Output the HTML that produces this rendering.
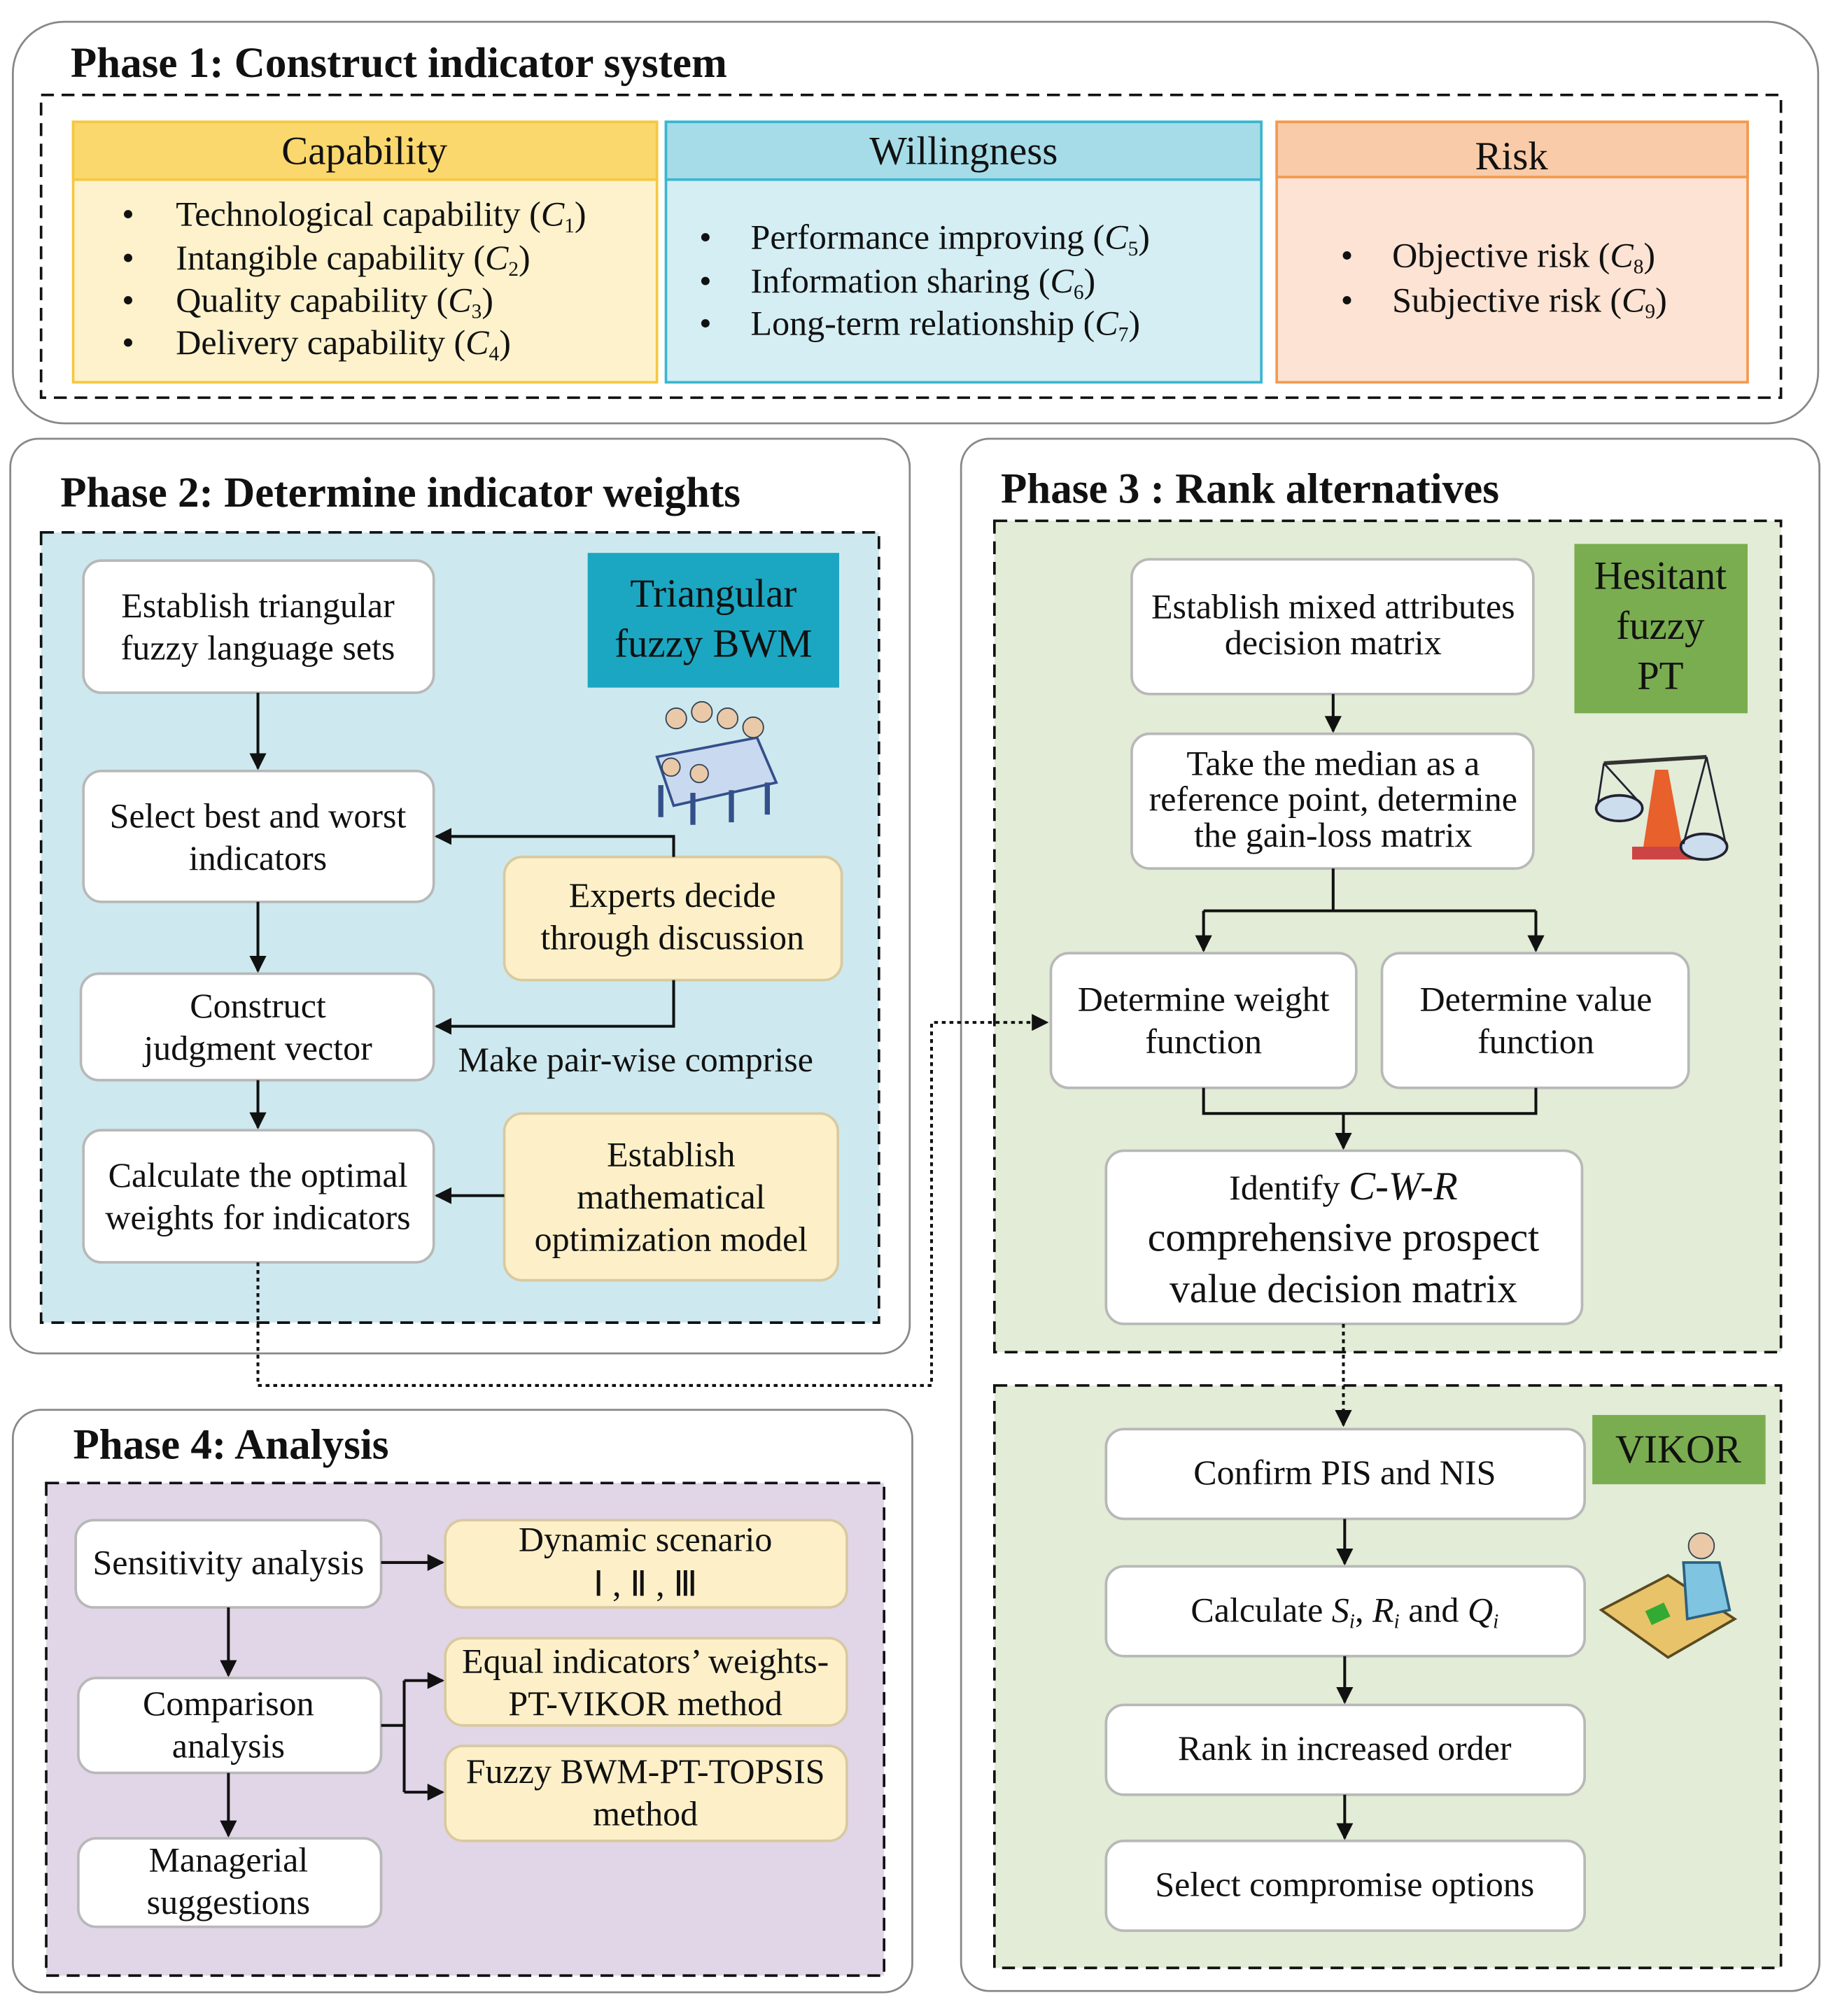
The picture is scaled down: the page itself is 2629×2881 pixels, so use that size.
<!DOCTYPE html>
<html><head><meta charset="utf-8"><style>
html,body{margin:0;padding:0;background:#fff}
svg{display:block}
text{font-family:"Liberation Serif",serif;fill:#111}
.t{font-size:27.3px}
.h{font-size:33.3px;font-weight:bold}
.wb{fill:#fff;stroke:#b8b8b8;stroke-width:2}
.yb{fill:#fdf0c8;stroke:#d8c9a0;stroke-width:2}
.ln{stroke:#111;stroke-width:2.2;fill:none}
</style></head><body>
<svg width="2629" height="2881" viewBox="0 0 1434 1571.5" xmlns="http://www.w3.org/2000/svg">
<defs><marker id="a" viewBox="0 0 10 10" refX="9" refY="5" markerWidth="6" markerHeight="6" orient="auto"><path d="M0,0L10,5L0,10z" fill="#111"/></marker></defs>

<!-- Phase 1 -->
<rect x="10" y="17" width="1407" height="313" rx="40" fill="#fff" stroke="#888" stroke-width="1.5"/>
<text x="55" y="60" class="h">Phase 1: Construct indicator system</text>
<rect x="32" y="74" width="1356" height="236" fill="none" stroke="#111" stroke-width="2" stroke-dasharray="10,6"/>
<rect x="57" y="95" width="455" height="203" fill="#fdf2cc" stroke="#f5c842" stroke-width="2"/>
<rect x="57" y="95" width="455" height="45" fill="#fbd86e" stroke="#f5c842" stroke-width="2"/>
<text x="284" y="128" class="t" text-anchor="middle" style="font-size:31px">Capability</text>
<g class="t"><text x="95" y="176">•</text><text x="137" y="176">Technological capability (<tspan font-style="italic">C</tspan><tspan font-size="16" dy="5">1</tspan><tspan dy="-5">)</tspan></text>
<text x="95" y="210">•</text><text x="137" y="210">Intangible capability (<tspan font-style="italic">C</tspan><tspan font-size="16" dy="5">2</tspan><tspan dy="-5">)</tspan></text>
<text x="95" y="243">•</text><text x="137" y="243">Quality capability (<tspan font-style="italic">C</tspan><tspan font-size="16" dy="5">3</tspan><tspan dy="-5">)</tspan></text>
<text x="95" y="276">•</text><text x="137" y="276">Delivery capability (<tspan font-style="italic">C</tspan><tspan font-size="16" dy="5">4</tspan><tspan dy="-5">)</tspan></text></g>
<rect x="519" y="95" width="464" height="203" fill="#d4eef3" stroke="#3bb6d0" stroke-width="2"/>
<rect x="519" y="95" width="464" height="45" fill="#a6dce8" stroke="#3bb6d0" stroke-width="2"/>
<text x="751" y="128" class="t" text-anchor="middle" style="font-size:31px">Willingness</text>
<g class="t"><text x="545" y="194">•</text><text x="585" y="194">Performance improving  (<tspan font-style="italic">C</tspan><tspan font-size="16" dy="5">5</tspan><tspan dy="-5">)</tspan></text>
<text x="545" y="228">•</text><text x="585" y="228">Information sharing (<tspan font-style="italic">C</tspan><tspan font-size="16" dy="5">6</tspan><tspan dy="-5">)</tspan></text>
<text x="545" y="261">•</text><text x="585" y="261">Long-term relationship  (<tspan font-style="italic">C</tspan><tspan font-size="16" dy="5">7</tspan><tspan dy="-5">)</tspan></text></g>
<rect x="995" y="95" width="367" height="203" fill="#fde3d3" stroke="#f29a50" stroke-width="2"/>
<rect x="995" y="95" width="367" height="43" fill="#f9cba8" stroke="#f29a50" stroke-width="2"/>
<text x="1178" y="132" class="t" text-anchor="middle" style="font-size:31px">Risk</text>
<g class="t"><text x="1045" y="208">•</text><text x="1085" y="208">Objective risk (<tspan font-style="italic">C</tspan><tspan font-size="16" dy="5">8</tspan><tspan dy="-5">)</tspan></text>
<text x="1045" y="243">•</text><text x="1085" y="243">Subjective risk (<tspan font-style="italic">C</tspan><tspan font-size="16" dy="5">9</tspan><tspan dy="-5">)</tspan></text></g>

<!-- Phase 2 -->
<rect x="8" y="342" width="701" height="713" rx="22" fill="#fff" stroke="#888" stroke-width="1.5"/>
<text x="47" y="395" class="h">Phase 2: Determine indicator weights</text>
<rect x="32" y="415" width="653" height="616" fill="#cde9ef" stroke="#111" stroke-width="2" stroke-dasharray="10,6"/>
<rect x="65" y="437" width="273" height="103" rx="14" class="wb"/>
<text x="201" y="481" class="t" text-anchor="middle">Establish triangular</text><text x="201" y="514" class="t" text-anchor="middle">fuzzy language sets</text>
<rect x="65" y="601" width="273" height="102" rx="14" class="wb"/>
<text x="201" y="645" class="t" text-anchor="middle">Select best and worst</text><text x="201" y="678" class="t" text-anchor="middle">indicators</text>
<rect x="63" y="759" width="275" height="83" rx="14" class="wb"/>
<text x="201" y="793" class="t" text-anchor="middle">Construct</text><text x="201" y="826" class="t" text-anchor="middle">judgment vector</text>
<rect x="65" y="881" width="273" height="103" rx="14" class="wb"/>
<text x="201" y="925" class="t" text-anchor="middle">Calculate the optimal</text><text x="201" y="958" class="t" text-anchor="middle">weights for indicators</text>
<rect x="458" y="431" width="196" height="105" fill="#1ba7c2"/>
<text x="556" y="473" class="t" text-anchor="middle" style="font-size:31px">Triangular</text><text x="556" y="512" class="t" text-anchor="middle" style="font-size:31px">fuzzy BWM</text>
<rect x="393" y="668" width="263" height="96" rx="14" class="yb"/>
<text x="524" y="707" class="t" text-anchor="middle">Experts decide</text><text x="524" y="740" class="t" text-anchor="middle">through discussion</text>
<rect x="393" y="868" width="260" height="130" rx="14" class="yb"/>
<text x="523" y="909" class="t" text-anchor="middle">Establish</text><text x="523" y="942" class="t" text-anchor="middle">mathematical</text><text x="523" y="975" class="t" text-anchor="middle">optimization model</text>
<text x="357" y="835" class="t">Make pair-wise comprise</text>
<path class="ln" d="M201,540V599" marker-end="url(#a)"/>
<path class="ln" d="M201,703V757" marker-end="url(#a)"/>
<path class="ln" d="M201,842V879" marker-end="url(#a)"/>
<path class="ln" d="M525,668V652H340" marker-end="url(#a)"/>
<path class="ln" d="M525,764V800H340" marker-end="url(#a)"/>
<path class="ln" d="M393,932H340" marker-end="url(#a)"/>
<!-- people icon -->
<g>
<path d="M512,590L590,575L605,610L525,628z" fill="#c9d9f0" stroke="#34508a" stroke-width="2"/>
<circle cx="527" cy="560" r="8" fill="#e9c9a8" stroke="#345" /><circle cx="547" cy="555" r="8" fill="#e9c9a8" stroke="#345"/><circle cx="567" cy="560" r="8" fill="#e9c9a8" stroke="#345"/><circle cx="587" cy="567" r="8" fill="#e9c9a8" stroke="#345"/>
<path d="M515,612v25M540,618v25M570,616v25M598,610v25" stroke="#34508a" stroke-width="4"/>
<circle cx="523" cy="598" r="7" fill="#e9c9a8" stroke="#345"/><circle cx="545" cy="603" r="7" fill="#e9c9a8" stroke="#345"/>
</g>

<!-- Phase 3 -->
<rect x="749" y="342" width="669" height="1210" rx="22" fill="#fff" stroke="#888" stroke-width="1.5"/>
<text x="780" y="392" class="h">Phase 3 : Rank alternatives</text>
<rect x="775" y="406" width="613" height="648" fill="#e2ecd6" stroke="#111" stroke-width="2" stroke-dasharray="10,6"/>
<rect x="882" y="436" width="313" height="105" rx="14" class="wb"/>
<text x="1039" y="482" class="t" text-anchor="middle">Establish mixed attributes</text><text x="1039" y="510" class="t" text-anchor="middle">decision matrix</text>
<rect x="1227" y="424" width="135" height="132" fill="#7aad4f"/>
<text x="1294" y="459" class="t" text-anchor="middle" style="font-size:31px">Hesitant</text><text x="1294" y="498" class="t" text-anchor="middle" style="font-size:31px">fuzzy</text><text x="1294" y="537" class="t" text-anchor="middle" style="font-size:31px">PT</text>
<rect x="882" y="572" width="313" height="105" rx="14" class="wb"/>
<text x="1039" y="604" class="t" text-anchor="middle">Take the median as a</text><text x="1039" y="632" class="t" text-anchor="middle">reference point, determine</text><text x="1039" y="660" class="t" text-anchor="middle">the gain-loss matrix</text>
<rect x="819" y="743" width="238" height="105" rx="14" class="wb"/>
<text x="938" y="788" class="t" text-anchor="middle">Determine weight</text><text x="938" y="821" class="t" text-anchor="middle">function</text>
<rect x="1077" y="743" width="239" height="105" rx="14" class="wb"/>
<text x="1197" y="788" class="t" text-anchor="middle">Determine value</text><text x="1197" y="821" class="t" text-anchor="middle">function</text>
<rect x="862" y="897" width="371" height="135" rx="14" class="wb"/>
<text x="1047" y="935" class="t" text-anchor="middle">Identify  <tspan font-style="italic" font-size="31">C-W-R</tspan></text>
<text x="1047" y="975" class="t" text-anchor="middle" style="font-size:31.5px">comprehensive prospect</text><text x="1047" y="1015" class="t" text-anchor="middle" style="font-size:31.5px">value decision matrix</text>
<path class="ln" d="M1039,541V570" marker-end="url(#a)"/>
<path class="ln" d="M1039,677V710M938,710H1197"/>
<path class="ln" d="M938,710V741" marker-end="url(#a)"/>
<path class="ln" d="M1197,710V741" marker-end="url(#a)"/>
<path class="ln" d="M938,848V868H1197V848M1047,868V895" marker-end="url(#a)"/>
<!-- scale icon -->
<g>
<path d="M1280,665L1290,600L1300,600L1312,665z" fill="#e8602c"/>
<rect x="1272" y="660" width="48" height="10" fill="#c44"/>
<path d="M1250,595L1330,590" stroke="#333" stroke-width="3"/>
<ellipse cx="1262" cy="630" rx="18" ry="10" fill="#cde" stroke="#223" stroke-width="2"/>
<ellipse cx="1328" cy="660" rx="18" ry="10" fill="#cde" stroke="#223" stroke-width="2"/>
<path d="M1250,595L1245,628M1250,595L1280,628M1330,590L1312,658M1330,590L1345,658" stroke="#223" stroke-width="1.5"/>
</g>
<rect x="775" y="1080" width="613" height="454" fill="#e2ecd6" stroke="#111" stroke-width="2" stroke-dasharray="10,6"/>
<path class="ln" d="M1047,1032V1111" stroke-dasharray="3,3" marker-end="url(#a)"/>
<rect x="1241" y="1103" width="135" height="54" fill="#7aad4f"/>
<text x="1308" y="1140" class="t" text-anchor="middle" style="font-size:31px">VIKOR</text>
<rect x="862" y="1114" width="373" height="70" rx="14" class="wb"/>
<text x="1048" y="1157" class="t" text-anchor="middle">Confirm PIS and NIS</text>
<rect x="862" y="1221" width="373" height="70" rx="14" class="wb"/>
<text x="1048" y="1264" class="t" text-anchor="middle">Calculate  <tspan font-style="italic">S<tspan font-size="16" dy="5">i</tspan></tspan><tspan dy="-5">, </tspan><tspan font-style="italic">R<tspan font-size="16" dy="5">i</tspan></tspan><tspan dy="-5"> and </tspan><tspan font-style="italic">Q<tspan font-size="16" dy="5">i</tspan></tspan></text>
<rect x="862" y="1329" width="373" height="70" rx="14" class="wb"/>
<text x="1048" y="1372" class="t" text-anchor="middle">Rank in increased order</text>
<rect x="862" y="1435" width="373" height="70" rx="14" class="wb"/>
<text x="1048" y="1478" class="t" text-anchor="middle">Select compromise options</text>
<path class="ln" d="M1048,1184V1219" marker-end="url(#a)"/>
<path class="ln" d="M1048,1291V1327" marker-end="url(#a)"/>
<path class="ln" d="M1048,1399V1433" marker-end="url(#a)"/>
<!-- desk icon -->
<g>
<path d="M1248,1255L1300,1228L1352,1262L1300,1292z" fill="#e8c36a" stroke="#5a4a20" stroke-width="2"/>
<circle cx="1326" cy="1205" r="10" fill="#e9c9a8" stroke="#345"/>
<path d="M1312,1218L1340,1218L1348,1255L1315,1262z" fill="#7fc4e0" stroke="#2a6080" stroke-width="2"/>
<rect x="1284" y="1252" width="16" height="12" fill="#3a3" transform="rotate(-25 1292 1258)"/>
</g>

<!-- Phase 4 -->
<rect x="10" y="1099" width="701" height="454" rx="22" fill="#fff" stroke="#888" stroke-width="1.5"/>
<text x="57" y="1137" class="h">Phase 4: Analysis</text>
<rect x="36" y="1156" width="653" height="384" fill="#e0d6e7" stroke="#111" stroke-width="2" stroke-dasharray="10,6"/>
<rect x="59" y="1185" width="238" height="68" rx="14" class="wb"/>
<text x="178" y="1227" class="t" text-anchor="middle">Sensitivity analysis</text>
<rect x="61" y="1308" width="236" height="74" rx="14" class="wb"/>
<text x="178" y="1337" class="t" text-anchor="middle">Comparison</text><text x="178" y="1370" class="t" text-anchor="middle">analysis</text>
<rect x="61" y="1433" width="236" height="69" rx="14" class="wb"/>
<text x="178" y="1459" class="t" text-anchor="middle">Managerial</text><text x="178" y="1492" class="t" text-anchor="middle">suggestions</text>
<rect x="347" y="1185" width="313" height="68" rx="14" class="yb"/>
<text x="503" y="1209" class="t" text-anchor="middle">Dynamic scenario</text><text x="503" y="1244" class="t" text-anchor="middle">Ⅰ , Ⅱ ,  Ⅲ</text>
<rect x="347" y="1277" width="313" height="68" rx="14" class="yb"/>
<text x="503" y="1304" class="t" text-anchor="middle">Equal indicators’ weights-</text><text x="503" y="1337" class="t" text-anchor="middle">PT-VIKOR method</text>
<rect x="347" y="1361" width="313" height="74" rx="14" class="yb"/>
<text x="503" y="1390" class="t" text-anchor="middle">Fuzzy BWM-PT-TOPSIS</text><text x="503" y="1423" class="t" text-anchor="middle">method</text>
<path class="ln" d="M297,1218H345" marker-end="url(#a)"/>
<path class="ln" d="M178,1253V1306" marker-end="url(#a)"/>
<path class="ln" d="M178,1382V1431" marker-end="url(#a)"/>
<path class="ln" d="M297,1345H315M315,1310V1397"/>
<path class="ln" d="M315,1310H345" marker-end="url(#a)"/>
<path class="ln" d="M315,1397H345" marker-end="url(#a)"/>

<!-- dotted connector on top -->
<path class="ln" d="M201,984V1080H726V797H816" stroke-dasharray="3,3" marker-end="url(#a)"/>
</svg>
</body></html>
